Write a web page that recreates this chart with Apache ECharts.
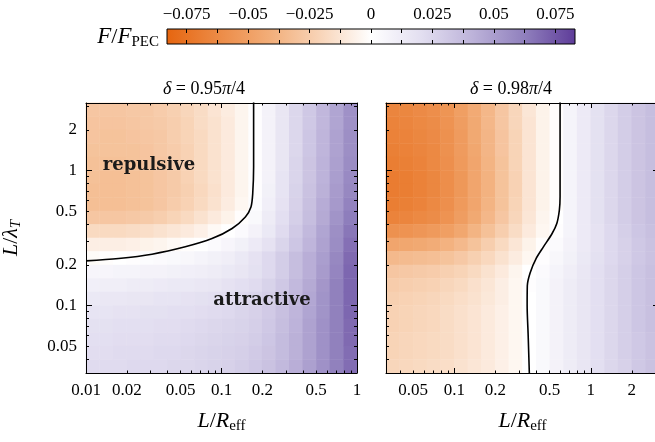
<!DOCTYPE html>
<html><head><meta charset="utf-8">
<script src="https://cdn.jsdelivr.net/npm/echarts@6/dist/echarts.min.js"></script>
<style>html,body{margin:0;padding:0;background:#fff}#c{width:655px;height:442px}</style>
</head><body><div id="c"></div>
<script>
// ---- categories: cell centres (log10 units) ----
const leftXCells = [-1.95,-1.85,-1.75,-1.65,-1.55,-1.45,-1.35,-1.25,-1.15,-1.05,-0.95,-0.85,-0.75,-0.65,-0.55,-0.45,-0.35,-0.25,-0.15,-0.05];
const rightXCells = [-1.45,-1.35,-1.25,-1.15,-1.05,-0.95,-0.85,-0.75,-0.65,-0.55,-0.45,-0.35,-0.25,-0.15,-0.05,0.05,0.15,0.25,0.35,0.45];
const yCells = [0.45,0.35,0.25,0.15,0.05,-0.05,-0.15,-0.25,-0.35,-0.45,-0.55,-0.65,-0.75,-0.85,-0.95,-1.05,-1.15,-1.25,-1.35,-1.45]; // top -> bottom

// ---- F/F_PEC values, delta = 0.95 pi/4 (rows top -> bottom) ----
const leftValues = [
[-0.028,-0.028,-0.028,-0.027,-0.027,-0.025,-0.023,-0.020,-0.017,-0.013,-0.009,-0.005,0.001,0.008,0.016,0.024,0.031,0.039,0.047,0.055],
[-0.029,-0.029,-0.029,-0.028,-0.027,-0.026,-0.024,-0.021,-0.017,-0.014,-0.010,-0.005,0.001,0.008,0.016,0.024,0.031,0.039,0.047,0.055],
[-0.029,-0.030,-0.030,-0.029,-0.028,-0.027,-0.024,-0.021,-0.018,-0.014,-0.010,-0.005,0.001,0.008,0.016,0.024,0.032,0.040,0.048,0.056],
[-0.030,-0.030,-0.030,-0.030,-0.029,-0.027,-0.025,-0.022,-0.018,-0.014,-0.010,-0.005,0.001,0.008,0.016,0.024,0.032,0.040,0.048,0.056],
[-0.031,-0.031,-0.031,-0.030,-0.029,-0.028,-0.025,-0.022,-0.018,-0.014,-0.010,-0.005,0.001,0.008,0.016,0.025,0.033,0.041,0.049,0.057],
[-0.031,-0.032,-0.032,-0.031,-0.030,-0.028,-0.026,-0.022,-0.018,-0.014,-0.010,-0.005,0.001,0.008,0.017,0.025,0.033,0.041,0.050,0.058],
[-0.032,-0.032,-0.032,-0.031,-0.030,-0.028,-0.026,-0.023,-0.019,-0.015,-0.010,-0.005,0.001,0.009,0.017,0.026,0.034,0.042,0.051,0.059],
[-0.032,-0.032,-0.032,-0.031,-0.030,-0.028,-0.025,-0.022,-0.018,-0.014,-0.009,-0.004,0.002,0.010,0.018,0.027,0.035,0.044,0.052,0.061],
[-0.028,-0.028,-0.028,-0.027,-0.026,-0.024,-0.021,-0.018,-0.014,-0.010,-0.006,-0.001,0.004,0.012,0.020,0.028,0.036,0.045,0.054,0.063],
[-0.018,-0.018,-0.018,-0.017,-0.016,-0.014,-0.012,-0.010,-0.007,-0.003,0.000,0.003,0.008,0.014,0.022,0.030,0.038,0.047,0.056,0.065],
[-0.008,-0.008,-0.008,-0.007,-0.006,-0.005,-0.003,-0.001,0.000,0.003,0.006,0.009,0.013,0.018,0.025,0.032,0.040,0.048,0.057,0.067],
[-0.002,-0.001,0.000,0.001,0.002,0.003,0.004,0.005,0.007,0.009,0.011,0.014,0.018,0.023,0.029,0.036,0.043,0.050,0.059,0.069],
[0.006,0.006,0.007,0.007,0.008,0.008,0.009,0.010,0.011,0.012,0.014,0.016,0.019,0.023,0.029,0.036,0.043,0.051,0.060,0.070],
[0.010,0.011,0.011,0.012,0.012,0.013,0.014,0.014,0.015,0.016,0.018,0.020,0.022,0.026,0.031,0.038,0.045,0.053,0.062,0.070],
[0.014,0.015,0.015,0.016,0.016,0.017,0.017,0.018,0.019,0.020,0.021,0.023,0.025,0.028,0.033,0.039,0.046,0.054,0.062,0.070],
[0.017,0.017,0.018,0.018,0.019,0.019,0.020,0.020,0.021,0.022,0.023,0.025,0.027,0.030,0.035,0.040,0.047,0.054,0.062,0.070],
[0.019,0.019,0.020,0.020,0.020,0.021,0.021,0.022,0.023,0.024,0.025,0.026,0.028,0.031,0.036,0.041,0.048,0.055,0.062,0.069],
[0.020,0.020,0.021,0.021,0.021,0.022,0.022,0.023,0.024,0.025,0.026,0.027,0.029,0.032,0.037,0.042,0.048,0.055,0.062,0.069],
[0.021,0.021,0.022,0.022,0.022,0.023,0.023,0.024,0.025,0.026,0.027,0.028,0.030,0.033,0.037,0.042,0.048,0.055,0.062,0.068],
[0.022,0.022,0.022,0.023,0.023,0.023,0.024,0.024,0.025,0.026,0.027,0.029,0.031,0.034,0.038,0.043,0.049,0.055,0.062,0.068]
];

// ---- F/F_PEC values, delta = 0.98 pi/4 (rows top -> bottom) ----
const rightValues = [
[-0.065,-0.064,-0.062,-0.060,-0.056,-0.050,-0.043,-0.036,-0.028,-0.020,-0.012,-0.006,-0.001,0.007,0.013,0.019,0.024,0.029,0.033,0.036],
[-0.066,-0.065,-0.063,-0.061,-0.057,-0.051,-0.044,-0.036,-0.028,-0.020,-0.013,-0.006,-0.001,0.007,0.013,0.019,0.024,0.029,0.033,0.036],
[-0.067,-0.066,-0.064,-0.062,-0.058,-0.052,-0.044,-0.037,-0.029,-0.021,-0.013,-0.006,-0.001,0.007,0.013,0.019,0.024,0.029,0.033,0.036],
[-0.068,-0.067,-0.065,-0.063,-0.058,-0.052,-0.045,-0.037,-0.029,-0.021,-0.013,-0.006,-0.001,0.007,0.013,0.019,0.024,0.029,0.033,0.036],
[-0.069,-0.068,-0.066,-0.063,-0.059,-0.053,-0.046,-0.038,-0.030,-0.021,-0.013,-0.006,-0.001,0.007,0.013,0.019,0.024,0.029,0.033,0.036],
[-0.070,-0.069,-0.067,-0.064,-0.060,-0.054,-0.046,-0.039,-0.030,-0.022,-0.013,-0.006,-0.001,0.007,0.013,0.019,0.024,0.029,0.033,0.036],
[-0.070,-0.069,-0.067,-0.064,-0.060,-0.054,-0.046,-0.039,-0.030,-0.022,-0.013,-0.006,-0.001,0.007,0.013,0.019,0.024,0.029,0.033,0.036],
[-0.069,-0.068,-0.066,-0.063,-0.059,-0.053,-0.046,-0.038,-0.030,-0.021,-0.013,-0.006,-0.001,0.007,0.013,0.019,0.024,0.029,0.033,0.036],
[-0.066,-0.065,-0.063,-0.061,-0.057,-0.051,-0.044,-0.036,-0.028,-0.020,-0.012,-0.005,0.000,0.007,0.013,0.019,0.024,0.029,0.033,0.036],
[-0.058,-0.057,-0.055,-0.053,-0.050,-0.045,-0.038,-0.031,-0.024,-0.017,-0.010,-0.004,0.001,0.007,0.013,0.018,0.023,0.028,0.032,0.035],
[-0.046,-0.045,-0.044,-0.042,-0.039,-0.035,-0.030,-0.024,-0.018,-0.012,-0.006,-0.001,0.003,0.008,0.013,0.018,0.023,0.027,0.031,0.034],
[-0.035,-0.034,-0.033,-0.032,-0.030,-0.027,-0.023,-0.019,-0.014,-0.009,-0.004,0.001,0.005,0.009,0.014,0.019,0.023,0.027,0.031,0.034],
[-0.028,-0.027,-0.026,-0.025,-0.023,-0.021,-0.018,-0.014,-0.010,-0.005,0.000,0.003,0.007,0.011,0.015,0.020,0.024,0.028,0.032,0.035],
[-0.025,-0.024,-0.023,-0.022,-0.020,-0.018,-0.015,-0.012,-0.008,-0.004,0.001,0.004,0.008,0.012,0.016,0.020,0.024,0.028,0.032,0.035],
[-0.023,-0.022,-0.021,-0.020,-0.018,-0.016,-0.014,-0.011,-0.008,-0.004,0.000,0.004,0.008,0.012,0.016,0.020,0.024,0.028,0.032,0.035],
[-0.022,-0.021,-0.020,-0.019,-0.017,-0.015,-0.013,-0.010,-0.007,-0.004,0.000,0.004,0.008,0.012,0.016,0.020,0.024,0.028,0.032,0.035],
[-0.022,-0.021,-0.020,-0.019,-0.017,-0.015,-0.013,-0.010,-0.007,-0.004,0.000,0.004,0.008,0.012,0.016,0.020,0.024,0.028,0.032,0.035],
[-0.021,-0.020,-0.019,-0.018,-0.017,-0.015,-0.013,-0.010,-0.007,-0.004,0.000,0.004,0.008,0.012,0.016,0.020,0.024,0.028,0.031,0.034],
[-0.021,-0.020,-0.019,-0.018,-0.017,-0.015,-0.013,-0.010,-0.007,-0.004,0.000,0.004,0.008,0.012,0.016,0.020,0.024,0.028,0.031,0.034],
[-0.020,-0.019,-0.018,-0.017,-0.016,-0.014,-0.012,-0.010,-0.007,-0.004,0.000,0.004,0.008,0.012,0.016,0.020,0.024,0.027,0.031,0.034]
];

// ---- zero contours (L/R_eff, L/lambda_T) ----
const leftContourX = [0.01,0.0174,0.0307,0.054,0.0851,0.1197,0.150,0.165,0.170,0.1726,0.1726];
const leftContourY = [0.214,0.223,0.240,0.272,0.313,0.372,0.453,0.537,0.676,1.06,3.2];
const rightContourX = [0.596,0.596,0.589,0.564,0.52,0.45,0.40,0.36,0.343,0.342,0.348,0.355];
const rightContourY = [3.2,0.64,0.51,0.405,0.34,0.272,0.225,0.175,0.14,0.1,0.06,0.031];

// ---- tick labels / tick positions ----
const leftXLabels = [0.01,0.02,0.05,0.1,0.2,0.5,1];
const rightXLabels = [0.05,0.1,0.2,0.5,1,2];
const yLabels = [0.05,0.1,0.2,0.5,1,2];
const leftXMajor = [0.01,0.1,1];
const leftXMinor = [0.02,0.03,0.04,0.05,0.06,0.07,0.08,0.09,0.2,0.3,0.4,0.5,0.6,0.7,0.8,0.9];
const wideMajor = [0.1,1];
const wideMinor = [0.04,0.05,0.06,0.07,0.08,0.09,0.2,0.3,0.4,0.5,0.6,0.7,0.8,0.9,2,3];
const cbLabels = [-0.075,-0.05,-0.025,0,0.025,0.05,0.075];
const cbTicks = [-0.075,-0.0625,-0.05,-0.0375,-0.025,-0.0125,0,0.0125,0.025,0.0375,0.05,0.0625,0.075];
const panelTitles = ['0.95','0.98'];

const cmap = ['#e6650f','#ec8a45','#f2ad78','#f8d4b8','#ffffff','#e2def0','#bcb2d9','#9080bd','#5e3c99'];
const vMin = -0.083, vMax = 0.083;

const serif = 'Liberation Serif';
const lg = v => Math.log10(v);
const fmtLog = v => String(Number(Math.pow(10, v).toPrecision(6)));
const fmtCb = v => { const r = Number(v.toPrecision(6)); return r === 0 ? '0' : (r < 0 ? '\u2212' + String(-r) : String(r)); };

function vAxis(grid, pos, min, max, o) {
  return {
    type: 'value', gridIndex: grid, position: pos, min: min, max: max, z: 10,
    axisLine: { show: !!o.line, onZero: false, lineStyle: { color: '#000', width: 1 } },
    axisTick: { show: true, inside: true, length: o.len, customValues: o.ticks, lineStyle: { color: '#000', width: 1 } },
    axisLabel: o.labels ? { show: true, customValues: o.labels, formatter: o.fmt || fmtLog, color: '#000', fontFamily: serif, fontSize: 17, margin: o.margin || 9 } : { show: false },
    splitLine: { show: false },
    name: o.name || '', nameLocation: 'middle', nameGap: o.nameGap || 0, nameRotate: o.nameRotate,
    nameTextStyle: o.nameStyle
  };
}
const nameRich = {
  i: { fontFamily: serif, fontStyle: 'italic', fontSize: 22, color: '#000' },
  s: { fontFamily: serif, fontSize: 15, color: '#000', padding: [11, 0, 0, 0] },
  si: { fontFamily: serif, fontStyle: 'italic', fontSize: 15, color: '#000', padding: [11, 0, 0, 0] }
};
const nameStyle = { fontFamily: serif, fontSize: 22, color: '#000', rich: nameRich };

const xAxes = [], yAxes = [];
function panel(g, xCells, xMin, xMax, xLabels, xMajor, xMinor, withYLabels) {
  const base = xAxes.length;
  xAxes.push({ type: 'category', gridIndex: g, data: xCells, show: false, position: 'bottom', axisLine: { onZero: false } });
  xAxes.push(vAxis(g, 'bottom', xMin, xMax, { line: true, len: 5, ticks: xMajor.map(lg), labels: xLabels.map(lg),
    name: '{i|L}/{i|R}{s|eff}', nameGap: 35, nameStyle: nameStyle }));
  xAxes.push(vAxis(g, 'bottom', xMin, xMax, { len: 2.5, ticks: xMinor.map(lg) }));
  xAxes.push(vAxis(g, 'top', xMin, xMax, { line: true, len: 5, ticks: xMajor.map(lg) }));
  xAxes.push(vAxis(g, 'top', xMin, xMax, { len: 2.5, ticks: xMinor.map(lg) }));
  yAxes.push({ type: 'category', gridIndex: g, data: yCells, show: false, inverse: true, position: 'left', axisLine: { onZero: false } });
  yAxes.push(vAxis(g, 'left', -1.5, 0.5, { line: true, len: 6, ticks: wideMajor.map(lg), labels: withYLabels ? yLabels.map(lg) : null,
    name: withYLabels ? '{i|L}/{i|\u03bb}{si|T}' : '', nameGap: 62, nameRotate: 90, nameStyle: nameStyle }));
  yAxes.push(vAxis(g, 'left', -1.5, 0.5, { len: 3, ticks: wideMinor.map(lg) }));
  yAxes.push(vAxis(g, 'right', -1.5, 0.5, { line: true, len: 6, ticks: wideMajor.map(lg) }));
  yAxes.push(vAxis(g, 'right', -1.5, 0.5, { len: 3, ticks: wideMinor.map(lg) }));
  return base;
}
const lb = panel(0, leftXCells, -2, 0, leftXLabels, leftXMajor, leftXMinor, true);
const rb = panel(1, rightXCells, -1.5, 0.5, rightXLabels, wideMajor, wideMinor, false);
// colour bar axes
xAxes.push(vAxis(2, 'top', vMin, vMax, { len: 4, ticks: cbTicks, labels: cbLabels, fmt: fmtCb, margin: 6 }));
xAxes.push(vAxis(2, 'bottom', vMin, vMax, { len: 4, ticks: cbTicks }));
yAxes.push({ type: 'value', gridIndex: 2, show: false, min: 0, max: 1 });

function heatData(values) {
  const out = [];
  values.forEach((row, r) => row.forEach((v, c) => out.push([c, r, v])));
  return out;
}
function contour(xs, ys) { return xs.map((x, i) => [lg(x), lg(ys[i])]); }

const option = {
  animation: false,
  backgroundColor: '#fff',
  grid: [
    { left: 86, top: 103, width: 271, height: 270, outerBoundsMode: 'none' },
    { left: 386, top: 103, width: 273, height: 270, outerBoundsMode: 'none' },
    { left: 167, top: 29, width: 408, height: 15, outerBoundsMode: 'none', show: true, borderColor: '#000', borderWidth: 1,
      backgroundColor: { type: 'linear', x: 0, y: 0, x2: 1, y2: 0,
        colorStops: cmap.map((c, i) => ({ offset: i / (cmap.length - 1), color: c })) } }
  ],
  xAxis: xAxes,
  yAxis: yAxes,
  visualMap: { type: 'continuous', show: false, min: vMin, max: vMax, dimension: 2, seriesIndex: [0, 1], inRange: { color: cmap } },
  series: [
    { type: 'heatmap', xAxisIndex: lb, yAxisIndex: lb, data: heatData(leftValues), itemStyle: { borderWidth: 0 }, emphasis: { disabled: true }, z: 1 },
    { type: 'heatmap', xAxisIndex: rb, yAxisIndex: rb, data: heatData(rightValues), itemStyle: { borderWidth: 0 }, emphasis: { disabled: true }, z: 1 },
    { type: 'line', xAxisIndex: lb + 1, yAxisIndex: lb + 1, data: contour(leftContourX, leftContourY), smooth: 0.3, showSymbol: false, symbol: 'none',
      lineStyle: { color: '#000', width: 1.6 }, z: 5, clip: true },
    { type: 'line', xAxisIndex: rb + 1, yAxisIndex: rb + 1, data: contour(rightContourX, rightContourY), smooth: 0.3, showSymbol: false, symbol: 'none',
      lineStyle: { color: '#000', width: 1.6 }, z: 5, clip: true }
  ],
  graphic: [
    { type: 'text', z: 20, style: { text: '{i|F}/{i|F}{s|PEC}', x: 159, y: 37, align: 'right', verticalAlign: 'middle',
      font: '22px "Liberation Serif"', fill: '#000',
      rich: { i: { fontFamily: serif, fontStyle: 'italic', fontSize: 23, fill: '#000' }, s: { fontFamily: serif, fontSize: 15, fill: '#000', padding: [11, 0, 0, 0] } } } },
    { type: 'text', z: 20, style: { text: '{i|\u03b4} = ' + panelTitles[0] + '{i|\u03c0}/4', x: 204, y: 89, align: 'center', verticalAlign: 'middle',
      font: '18px "Liberation Serif"', fill: '#000', rich: { i: { fontFamily: serif, fontStyle: 'italic', fontSize: 18, fill: '#000' } } } },
    { type: 'text', z: 20, style: { text: '{i|\u03b4} = ' + panelTitles[1] + '{i|\u03c0}/4', x: 511, y: 89, align: 'center', verticalAlign: 'middle',
      font: '18px "Liberation Serif"', fill: '#000', rich: { i: { fontFamily: serif, fontStyle: 'italic', fontSize: 18, fill: '#000' } } } },
    { type: 'text', z: 20, style: { text: 'repulsive', x: 149, y: 165, align: 'center', verticalAlign: 'middle', font: 'bold 18px "DejaVu Serif"', fill: '#1a1a1a' } },
    { type: 'text', z: 20, style: { text: 'attractive', x: 262, y: 300, align: 'center', verticalAlign: 'middle', font: 'bold 18px "DejaVu Serif"', fill: '#1a1a1a' } }
  ]
};
const chart = echarts.init(document.getElementById('c'), null, { renderer: 'canvas' });
chart.setOption(option);
</script></body></html>
